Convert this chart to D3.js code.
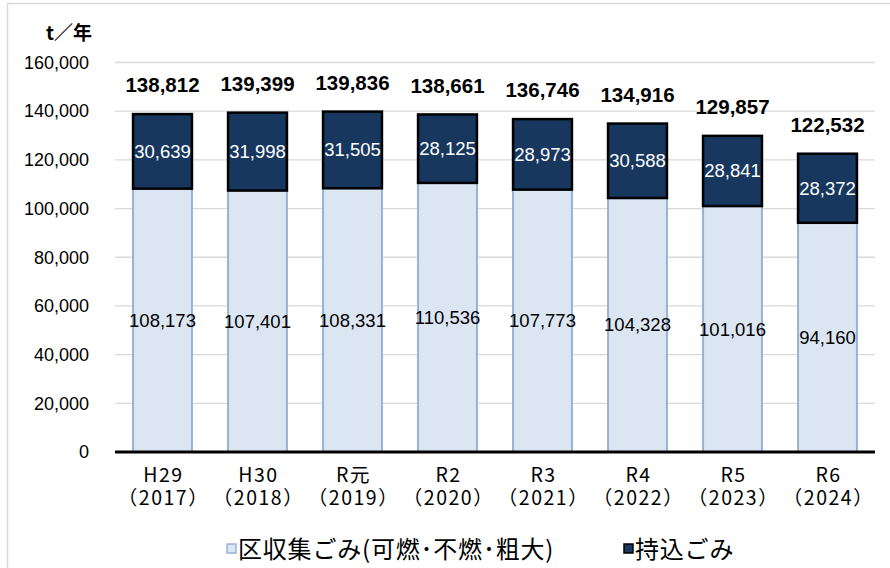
<!DOCTYPE html>
<html>
<head>
<meta charset="utf-8">
<script src="https://cdn.jsdelivr.net/npm/d3@7"></script>
<style>
  body { margin: 0; background: #fff; }
  svg { display: block; font-family: "Liberation Sans", Arial, "Noto Sans CJK JP", sans-serif; }
</style>
</head>
<body>
<svg id="chart" width="890" height="568"></svg>
<script>
// data
const categories = ["H29", "H30", "R元", "R2", "R3", "R4", "R5", "R6"];
const years = ["2017", "2018", "2019", "2020", "2021", "2022", "2023", "2024"];
const collected = [108173, 107401, 108331, 110536, 107773, 104328, 101016, 94160];
const broughtIn = [30639, 31998, 31505, 28125, 28973, 30588, 28841, 28372];
const totals = [138812, 139399, 139836, 138661, 136746, 134916, 129857, 122532];
const yTicks = [0, 20000, 40000, 60000, 80000, 100000, 120000, 140000, 160000];
const seriesNames = ["区収集ごみ(可燃･不燃･粗大)", "持込ごみ"];

const width = 890, height = 568;
const margin = { top: 62.5, right: 15, bottom: 116, left: 115 };
const svg = d3.select("#chart");
const fmt = d3.format(",");
const jpFont = "'Noto Sans CJK JP', sans-serif";

// outer frame
svg.append("path")
  .attr("d", "M7.5," + height + " V3.5 H" + width)
  .attr("fill", "none").attr("stroke", "#d9d9d9").attr("stroke-width", 1.5);

const x = d3.scaleBand()
  .domain(categories)
  .range([margin.left, width - margin.right])
  .paddingInner(0.38).paddingOuter(0.19);

const y = d3.scaleLinear()
  .domain([0, 160000])
  .range([height - margin.bottom, margin.top]);

// gridlines
svg.append("g")
  .selectAll("line")
  .data(yTicks.filter(d => d > 0))
  .join("line")
  .attr("x1", margin.left).attr("x2", width - margin.right)
  .attr("y1", d => y(d)).attr("y2", d => y(d))
  .attr("stroke", "#d9d9d9").attr("stroke-width", 1.3);

// y tick labels
svg.append("g")
  .attr("text-anchor", "end").attr("font-size", 18)
  .selectAll("text")
  .data(yTicks)
  .join("text")
  .attr("x", 89).attr("y", d => y(d))
  .attr("dy", "0.35em").attr("fill", "#000")
  .text(fmt);

svg.append("text")
  .attr("font-family", jpFont)
  .attr("x", 92).attr("y", 40)
  .attr("text-anchor", "end")
  .attr("font-size", 19).attr("font-weight", "bold")
  .text("t／年");

// bars
const rows = categories.map((c, i) => ({ c, a: collected[i], b: broughtIn[i], t: totals[i], yr: years[i] }));

svg.append("g")
  .selectAll("rect")
  .data(rows)
  .join("rect")
  .attr("x", d => x(d.c)).attr("width", x.bandwidth())
  .attr("y", d => y(d.a)).attr("height", d => y(0) - y(d.a))
  .attr("fill", "#dce6f2").attr("stroke", "#95b3d7").attr("stroke-width", 2);

svg.append("g")
  .selectAll("rect")
  .data(rows)
  .join("rect")
  .attr("x", d => x(d.c)).attr("width", x.bandwidth())
  .attr("y", d => y(d.a + d.b)).attr("height", d => y(d.a) - y(d.a + d.b))
  .attr("fill", "#17375e").attr("stroke", "#000").attr("stroke-width", 2.5);

// axis line
svg.append("line")
  .attr("x1", margin.left).attr("x2", width - margin.right)
  .attr("y1", y(0)).attr("y2", y(0))
  .attr("stroke", "#000").attr("stroke-width", 3);

// value labels
const lab = svg.append("g").attr("text-anchor", "middle").attr("font-size", 18.5);
lab.selectAll(".lo")
  .data(rows).join("text")
  .attr("x", d => x(d.c) + x.bandwidth() / 2)
  .attr("y", d => (y(0) + y(d.a)) / 2)
  .attr("dy", "0.35em").attr("fill", "#000")
  .text(d => fmt(d.a));
lab.selectAll(".hi")
  .data(rows).join("text")
  .attr("x", d => x(d.c) + x.bandwidth() / 2)
  .attr("y", d => (y(d.a) + y(d.a + d.b)) / 2)
  .attr("dy", "0.35em").attr("fill", "#fff")
  .text(d => fmt(d.b));
lab.selectAll(".tot")
  .data(rows).join("text")
  .attr("x", d => x(d.c) + x.bandwidth() / 2)
  .attr("y", d => y(d.t) - 29)
  .attr("dy", "0.35em").attr("fill", "#000")
  .attr("font-size", 20.5).attr("font-weight", "bold")
  .text(d => fmt(d.t));

// x labels, two lines in one text
const xl = svg.append("g")
  .attr("font-family", jpFont)
  .attr("text-anchor", "middle").attr("font-size", 19.5)
  .attr("letter-spacing", 1.5).attr("fill", "#000");
const xt = xl.selectAll("text")
  .data(rows).join("text")
  .attr("y", 482);
xt.append("tspan")
  .attr("x", d => x(d.c) + x.bandwidth() / 2 + 1)
  .text(d => d.c);
xt.append("tspan")
  .attr("x", d => x(d.c) + x.bandwidth() / 2 + 1)
  .attr("dy", 23)
  .text(d => "（" + d.yr + "）");

// legend
const legend = [
  { name: seriesNames[0], fill: "#dce6f2", stroke: "#95b3d7", x: 227 },
  { name: seriesNames[1], fill: "#17375e", stroke: "#000", x: 624 }
];
const lg = svg.append("g").attr("font-family", jpFont);
lg.selectAll("rect").data(legend).join("rect")
  .attr("x", d => d.x).attr("y", 544).attr("width", 9).attr("height", 9)
  .attr("fill", d => d.fill).attr("stroke", d => d.stroke).attr("stroke-width", 1.5);
lg.selectAll("text").data(legend).join("text")
  .attr("x", d => d.x + 11).attr("y", 558)
  .attr("font-size", 24).attr("letter-spacing", 0.8).attr("fill", "#000")
  .text(d => d.name);
</script>
</body>
</html>
